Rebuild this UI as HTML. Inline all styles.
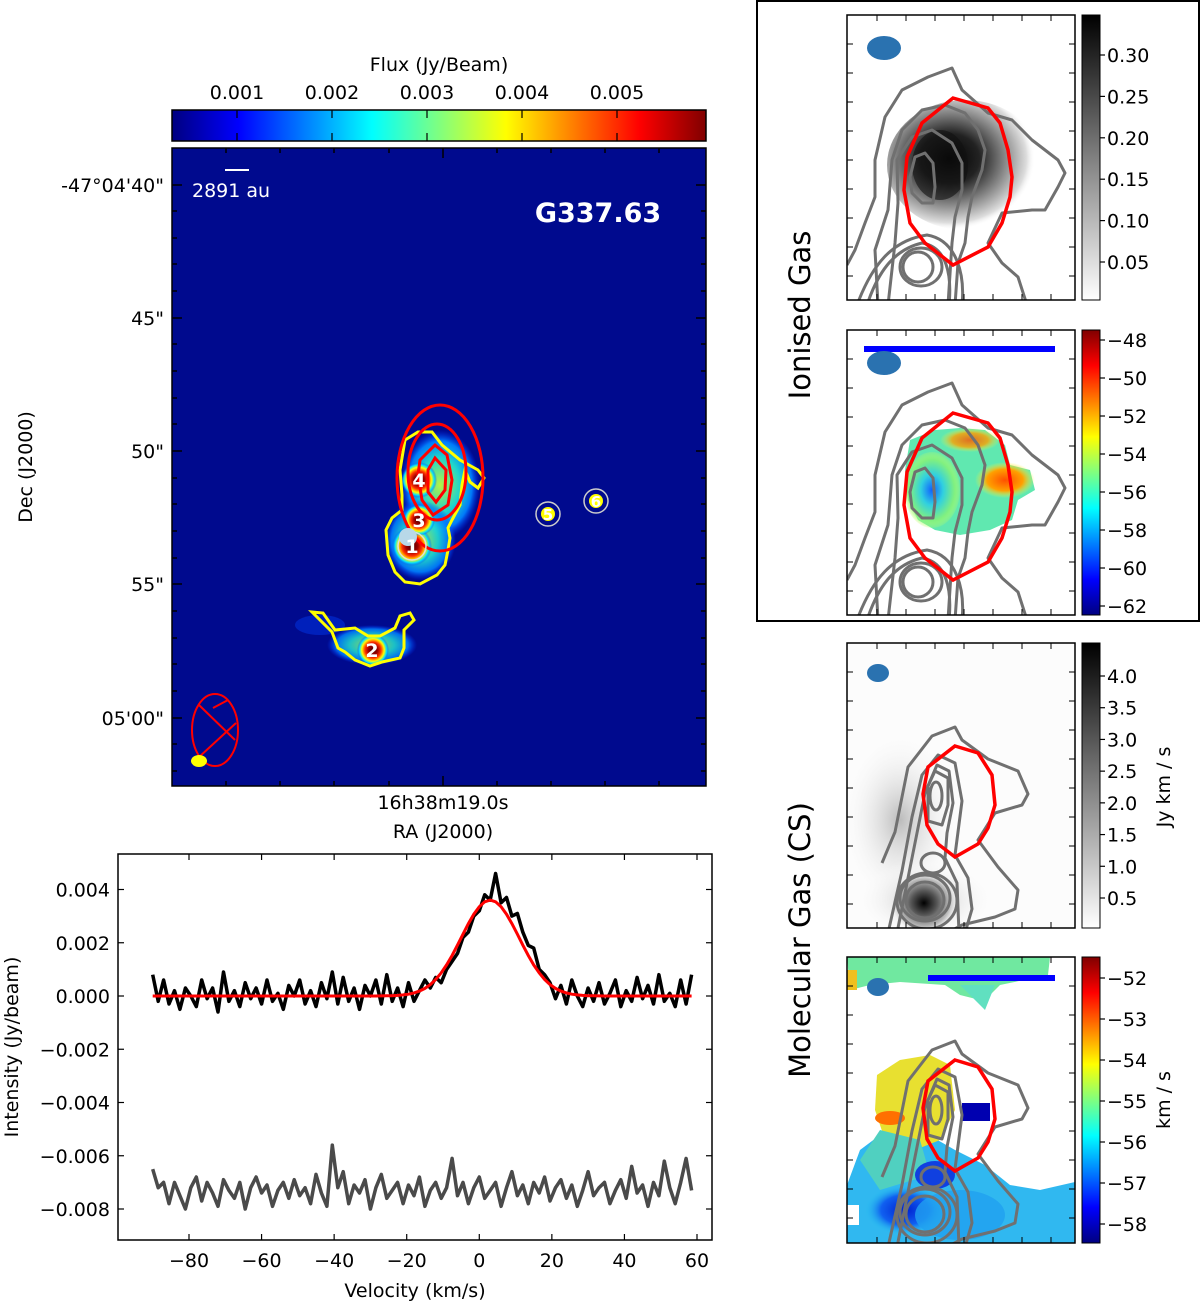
<!DOCTYPE html>
<html><head><meta charset="utf-8"><style>
body{margin:0;background:#fff;}
svg{display:block;font-family:"DejaVu Sans","Liberation Sans",sans-serif;}
</style></head><body>
<svg id="fig" width="1200" height="1301" viewBox="0 0 1200 1301" xmlns="http://www.w3.org/2000/svg">
<defs>
<linearGradient id="jet" x1="0" x2="1" y1="0" y2="0">
<stop offset="0" stop-color="#000080"/><stop offset="0.125" stop-color="#0000ff"/><stop offset="0.375" stop-color="#00ffff"/><stop offset="0.625" stop-color="#ffff00"/><stop offset="0.875" stop-color="#ff0000"/><stop offset="1" stop-color="#800000"/>
</linearGradient>
<linearGradient id="jetv" x1="0" x2="0" y1="1" y2="0">
<stop offset="0" stop-color="#000080"/><stop offset="0.125" stop-color="#0000ff"/><stop offset="0.375" stop-color="#00ffff"/><stop offset="0.625" stop-color="#ffff00"/><stop offset="0.875" stop-color="#ff0000"/><stop offset="1" stop-color="#800000"/>
</linearGradient>
<linearGradient id="grayv" x1="0" x2="0" y1="1" y2="0">
<stop offset="0" stop-color="#ffffff"/><stop offset="1" stop-color="#000000"/>
</linearGradient>
<radialGradient id="hot" cx="0.5" cy="0.5" r="0.5">
<stop offset="0" stop-color="#400000"/><stop offset="0.3" stop-color="#a00000"/><stop offset="0.5" stop-color="#ff3000"/><stop offset="0.7" stop-color="#ffff00"/><stop offset="0.85" stop-color="#00e0ff"/><stop offset="1" stop-color="#0030ff" stop-opacity="0"/>
</radialGradient>
<radialGradient id="warm" cx="0.5" cy="0.5" r="0.5">
<stop offset="0" stop-color="#c0ff40"/><stop offset="0.5" stop-color="#20e0d0"/><stop offset="0.8" stop-color="#0080ff"/><stop offset="1" stop-color="#0030ff" stop-opacity="0"/>
</radialGradient>
<radialGradient id="gblob" cx="0.4" cy="0.45" r="0.55">
<stop offset="0" stop-color="#000"/><stop offset="0.35" stop-color="#222"/><stop offset="0.65" stop-color="#888"/><stop offset="0.9" stop-color="#ddd"/><stop offset="1" stop-color="#fff" stop-opacity="0"/>
</radialGradient>
<radialGradient id="gspot" cx="0.5" cy="0.5" r="0.5">
<stop offset="0" stop-color="#000"/><stop offset="0.4" stop-color="#555"/><stop offset="0.8" stop-color="#bbb"/><stop offset="1" stop-color="#ddd" stop-opacity="0"/>
</radialGradient>
<radialGradient id="haze" cx="0.5" cy="0.5" r="0.5">
<stop offset="0" stop-color="#bbb"/><stop offset="1" stop-color="#fff" stop-opacity="0"/>
</radialGradient>
<radialGradient id="cyanb" cx="0.5" cy="0.5" r="0.5">
<stop offset="0" stop-color="#1060ff"/><stop offset="0.4" stop-color="#30d0e0"/><stop offset="0.8" stop-color="#80f080"/><stop offset="1" stop-color="#c0ff60" stop-opacity="0.2"/>
</radialGradient>
<radialGradient id="orng" cx="0.5" cy="0.5" r="0.5">
<stop offset="0" stop-color="#ff5000"/><stop offset="0.6" stop-color="#ffa000"/><stop offset="1" stop-color="#ffff40" stop-opacity="0"/>
</radialGradient>
<radialGradient id="blueb" cx="0.5" cy="0.5" r="0.5">
<stop offset="0" stop-color="#0020d0"/><stop offset="0.6" stop-color="#1060f0"/><stop offset="1" stop-color="#20c0f0" stop-opacity="0"/>
</radialGradient>
<clipPath id="cmap"><rect x="172" y="148" width="534" height="638"/></clipPath>
<clipPath id="cp1"><rect x="847" y="15" width="228" height="285"/></clipPath>
<clipPath id="cp2"><rect x="847" y="330" width="228" height="285"/></clipPath>
<clipPath id="cp3"><rect x="847" y="643" width="228" height="285"/></clipPath>
<clipPath id="cp4"><rect x="847" y="957" width="228" height="286"/></clipPath>
<clipPath id="cspec"><rect x="118" y="854" width="594" height="386"/></clipPath>
<g id="contA" fill="none" stroke="#707070" stroke-width="3" stroke-linejoin="round">
<path d="M0,250 L8,235 L18,208 L28,182 L28,145 L38,102 L55,75 L81,62 L105,53 L115,75 L141,98 L165,105 L185,125 L211,145 L218,158 L211,172 L198,195 L185,195 L155,198 L141,228 L155,248 L171,262 L180,290"/>
<path d="M31,290 L28,235 L41,195 L45,145 L55,115 L75,95 L98,90 L118,98 L131,115 L138,135 L135,155 L125,182 L121,202 L118,228 L111,248 L108,290"/>
<path d="M41,290 L48,228 L51,188 L50,145 L65,122 L85,115 L105,128 L115,148 L115,175 L108,202 L105,228 L101,290"/>
<path d="M63,162 L68,142 L78,138 L86,148 L88,172 L86,188 L75,188 L65,178 Z"/>
<ellipse cx="71" cy="252" rx="15" ry="15"/>
<ellipse cx="74" cy="252" rx="21" ry="19"/>
<path d="M20,290 C30,260 45,235 75,228 C100,232 105,260 102,290"/>
<path d="M10,290 C25,250 45,225 80,220 C110,225 118,260 115,290"/>
</g>
<g id="contB" fill="none" stroke="#707070" stroke-width="3" stroke-linejoin="round">
<path d="M35,220 L48,189 L61,124 L85,93 L108,84 L115,97 L141,116 L171,128 L181,151 L175,162 L148,170 L131,197 L151,224 L171,247 L168,266 L148,274 L115,282 L100,290"/>
<path d="M41,290 L55,228 L65,174 L75,132 L91,112 L108,120 L115,158 L111,189 L108,212 L121,235 L125,266 L118,290"/>
<path d="M50,290 L60,240 L70,190 L78,150 L90,122 L102,128 L106,160 L100,190 L98,215 L110,240 L112,290"/>
<path d="M81,143 L88,128 L101,135 L101,162 L95,182 L81,178 Z"/>
<ellipse cx="89" cy="153" rx="6" ry="14"/>
<ellipse cx="86" cy="220" rx="12" ry="10"/>
<ellipse cx="78" cy="255" rx="25" ry="23"/>
<ellipse cx="78" cy="257" rx="19" ry="18"/>
<ellipse cx="80" cy="258" rx="30" ry="28"/>
</g>
</defs>

<!-- ========== MAIN MAP ========== -->
<text x="439" y="71" font-size="19" text-anchor="middle">Flux (Jy/Beam)</text>
<rect x="172" y="110" width="534" height="31" fill="url(#jet)" stroke="#000" stroke-width="1.5"/>
<g id="cbTicks" font-size="19" text-anchor="middle"></g>

<g clip-path="url(#cmap)">
<rect x="172" y="148" width="534" height="638" fill="#000a8e"/>
<ellipse cx="440" cy="485" rx="40" ry="55" fill="url(#warm)" opacity="0.95"/>
<ellipse cx="420" cy="540" rx="36" ry="40" fill="url(#warm)" opacity="0.9"/>
<ellipse cx="372" cy="645" rx="45" ry="20" fill="url(#warm)" opacity="0.85"/>
<ellipse cx="320" cy="625" rx="25" ry="10" fill="#0040ff" opacity="0.4"/>
<circle cx="412" cy="546" r="20" fill="url(#hot)"/>
<circle cx="419" cy="520" r="16" fill="url(#hot)"/>
<circle cx="419" cy="480" r="18" fill="url(#hot)"/>
<circle cx="373" cy="650" r="16" fill="url(#hot)"/>
<circle cx="548" cy="514" r="7" fill="#ffff00"/>
<circle cx="596" cy="501" r="7" fill="#ffff00"/>
<path d="M405,440 L418,432 L432,432 L442,445 L460,460 L478,470 L484,478 L478,488 L470,482 L465,470 L462,485 L460,505 L452,520 L448,528 L450,538 L448,550 L445,565 L437,575 L420,584 L405,582 L395,572 L388,555 L386,530 L392,518 L402,510 L402,495 L400,470 Z" fill="none" stroke="#ffff00" stroke-width="3"/>
<path d="M312,612 L323,613 L335,630 L355,628 L368,636 L380,636 L395,628 L400,616 L410,613 L414,620 L404,630 L404,648 L400,658 L382,662 L370,666 L355,660 L345,652 L338,648 L332,632 Z" fill="none" stroke="#ffff00" stroke-width="3"/>
<ellipse cx="440" cy="478" rx="43" ry="73" fill="none" stroke="#ff0000" stroke-width="3"/>
<ellipse cx="437" cy="472" rx="29" ry="48" fill="none" stroke="#ff0000" stroke-width="3"/>
<path d="M420,460 L435,445 L447,455 L452,480 L448,505 L433,515 L422,500 L418,475 Z" fill="none" stroke="#ff0000" stroke-width="3"/>
<path d="M435,458 L446,470 L445,490 L436,502 L428,492 L428,470 Z" fill="none" stroke="#ff0000" stroke-width="3"/>
<circle cx="412" cy="546" r="14" fill="none" stroke="#ddd" stroke-width="1.5"/>
<circle cx="408" cy="537" r="9" fill="#b8d8e8"/>
<circle cx="548" cy="514" r="12" fill="none" stroke="#ccc" stroke-width="1.5"/>
<circle cx="596" cy="501" r="12" fill="none" stroke="#ccc" stroke-width="1.5"/>
<g font-size="19" font-weight="bold" fill="#fff" text-anchor="middle">
<text x="412" y="553">1</text>
<text x="372" y="657">2</text>
<text x="419" y="527">3</text>
<text x="419" y="487">4</text>
<text x="548" y="520" font-size="15">5</text>
<text x="596" y="507" font-size="15">6</text>
</g>
<rect x="225" y="169" width="24" height="2" fill="#fff"/>
<text x="192" y="197" font-size="19" fill="#fff">2891 au</text>
<text x="598" y="222" font-size="27" font-weight="bold" fill="#fff" text-anchor="middle">G337.63</text>
<ellipse cx="215" cy="730" rx="23" ry="36" fill="none" stroke="#ff0000" stroke-width="2"/>
<path d="M199,705 L235,740 M213,708 L228,700 M198,758 L236,723" stroke="#ff0000" stroke-width="2"/>
<ellipse cx="199" cy="761" rx="8" ry="6" fill="#ffff00"/>
</g>
<rect x="172" y="148" width="534" height="638" fill="none" stroke="#000" stroke-width="1.5"/>
<g id="mapTicks" stroke="#000" stroke-width="1.5"></g>
<g font-size="19" text-anchor="end">
<text x="164" y="192">-47°04'40"</text>
<text x="164" y="325">45"</text>
<text x="164" y="458">50"</text>
<text x="164" y="591">55"</text>
<text x="164" y="725">05'00"</text>
</g>
<text x="443" y="809" font-size="19" text-anchor="middle">16h38m19.0s</text>
<text x="443" y="838" font-size="19" text-anchor="middle">RA (J2000)</text>
<text transform="translate(32,467) rotate(-90)" font-size="19" text-anchor="middle">Dec (J2000)</text>

<!-- ========== SPECTRUM ========== -->
<g id="spec"></g>

<!-- ========== RIGHT PANELS ========== -->
<rect x="757" y="1" width="442" height="620" fill="none" stroke="#000" stroke-width="2"/>
<text transform="translate(810,315) rotate(-90)" font-size="29" text-anchor="middle">Ionised Gas</text>
<text transform="translate(810,940) rotate(-90)" font-size="29" text-anchor="middle">Molecular Gas (CS)</text>

<!-- panel 1 -->
<g clip-path="url(#cp1)">
<rect x="847" y="15" width="228" height="285" fill="#fff"/>
<ellipse cx="965" cy="165" rx="78" ry="65" fill="url(#gblob)"/>
<ellipse cx="940" cy="165" rx="28" ry="35" fill="#111" opacity="0.6"/>
<use href="#contA" x="847" y="15"/>
<path d="M953,98 L988,108 L1000,123 L1008,150 L1012,177 L1010,197 L1002,223 L988,247 L953,265 L925,243 L910,223 L904,190 L907,157 L922,123 Z" fill="none" stroke="#ff0000" stroke-width="3.5"/>
<ellipse cx="884" cy="48" rx="17" ry="12" fill="#2a72b0"/>
</g>
<rect x="847" y="15" width="228" height="285" fill="none" stroke="#000" stroke-width="1.5"/>
<rect x="1082" y="15" width="18" height="285" fill="url(#grayv)" stroke="#000" stroke-width="1"/>
<g id="cb1"></g>

<!-- panel 2 -->
<g clip-path="url(#cp2)">
<rect x="847" y="330" width="228" height="285" fill="#fff"/>
<path d="M910,440 L935,430 L960,428 L985,430 L1005,445 L1010,465 L1030,470 L1035,490 L1018,500 L1012,520 L990,530 L960,535 L935,530 L918,520 L908,500 L905,470 Z" fill="#60e8b0"/>
<ellipse cx="932" cy="490" rx="28" ry="38" fill="url(#cyanb)"/>
<ellipse cx="1005" cy="480" rx="30" ry="18" fill="url(#orng)"/>
<ellipse cx="970" cy="440" rx="30" ry="12" fill="url(#orng)" opacity="0.8"/>
<use href="#contA" x="847" y="330"/>
<path d="M953,413 L988,423 L1000,438 L1008,465 L1012,492 L1010,512 L1002,538 L988,562 L953,580 L925,558 L910,538 L904,505 L907,472 L922,438 Z" fill="none" stroke="#ff0000" stroke-width="3.5"/>
<rect x="864" y="346" width="191" height="6" fill="#0000ff"/>
<ellipse cx="884" cy="363" rx="17" ry="12" fill="#2a72b0"/>
</g>
<rect x="847" y="330" width="228" height="285" fill="none" stroke="#000" stroke-width="1.5"/>
<rect x="1082" y="330" width="18" height="285" fill="url(#jetv)" stroke="#000" stroke-width="1"/>
<g id="cb2"></g>

<!-- panel 3 -->
<g clip-path="url(#cp3)">
<rect x="847" y="643" width="228" height="285" fill="#fcfcfc"/>
<ellipse cx="900" cy="820" rx="60" ry="90" fill="url(#haze)"/>
<ellipse cx="925" cy="900" rx="70" ry="40" fill="url(#haze)"/>
<ellipse cx="924" cy="903" rx="32" ry="30" fill="url(#gspot)"/>
<use href="#contB" x="847" y="643"/>
<path d="M955,746 L978,753 L992,775 L995,805 L988,828 L978,844 L955,857 L938,844 L927,825 L923,794 L928,767 Z" fill="none" stroke="#ff0000" stroke-width="3.5"/>
<ellipse cx="878" cy="673" rx="11" ry="9" fill="#2a72b0"/>
</g>
<rect x="847" y="643" width="228" height="285" fill="none" stroke="#000" stroke-width="1.5"/>
<rect x="1082" y="643" width="18" height="285" fill="url(#grayv)" stroke="#000" stroke-width="1"/>
<g id="cb3"></g>
<text transform="translate(1170,787) rotate(-90)" font-size="19" text-anchor="middle">Jy km / s</text>

<!-- panel 4 -->
<g clip-path="url(#cp4)">
<rect x="847" y="957" width="228" height="286" fill="#fff"/>
<path d="M847,957 L1050,957 L1048,975 L1000,985 L990,995 L980,1000 L960,995 L945,985 L900,982 L870,985 L850,990 Z" fill="#70e8a0"/>
<path d="M960,985 L995,985 L985,1010 L975,1000 Z" fill="#60e0c0"/>
<rect x="847" y="970" width="10" height="20" fill="#f0c020"/>
<path d="M847,1185 L860,1150 L880,1135 L920,1130 L955,1150 L985,1165 L1010,1185 L1040,1190 L1075,1182 L1075,1243 L847,1243 Z" fill="#30b8f0"/>
<path d="M877,1075 L900,1060 L930,1055 L950,1065 L955,1110 L940,1140 L915,1150 L885,1140 L875,1110 Z" fill="#e8e030"/>
<path d="M860,1160 L880,1130 L920,1140 L930,1175 L880,1190 Z" fill="#50d0c0"/>
<ellipse cx="890" cy="1118" rx="15" ry="7" fill="#ff7000"/>
<ellipse cx="905" cy="1210" rx="40" ry="25" fill="url(#blueb)"/>
<ellipse cx="935" cy="1175" rx="20" ry="14" fill="#1040e0"/>
<ellipse cx="960" cy="1215" rx="45" ry="25" fill="#20a0f0" opacity="0.8"/>
<rect x="847" y="1205" width="12" height="20" fill="#fff"/>
<rect x="962" y="1103" width="28" height="18" fill="#0000b0"/>
<use href="#contB" x="847" y="957"/>
<path d="M955,1060 L978,1067 L992,1089 L995,1119 L988,1142 L978,1158 L955,1171 L938,1158 L927,1139 L923,1108 L928,1081 Z" fill="none" stroke="#ff0000" stroke-width="3.5"/>
<rect x="928" y="975" width="127" height="6" fill="#0000ff"/>
<ellipse cx="878" cy="987" rx="11" ry="9" fill="#2a72b0"/>
</g>
<rect x="847" y="957" width="228" height="286" fill="none" stroke="#000" stroke-width="1.5"/>
<rect x="1082" y="957" width="18" height="286" fill="url(#jetv)" stroke="#000" stroke-width="1"/>
<g id="cb4"></g>
<text transform="translate(1170,1100) rotate(-90)" font-size="19" text-anchor="middle">km / s</text>
</svg>

<script>
// ---------- Spectrum data ----------
const specVelStart = -90;
const specVelStep = 1.5;
// observed spectrum (units of 1e-4 Jy/beam)
const specObserved = [8,-2,6,-3,2,-5,3,0,-4,6,-1,3,-6,9,-2,2,-4,5,-1,3,-3,6,-2,1,-5,4,0,6,-3,2,-4,5,-1,9,-3,7,-2,3,-5,4,0,6,-3,8,-2,3,-4,5,-2,2,6,3,7,5,10,13,16,22,24,30,32,38,36,46,35,37,30,31,24,19,18,10,8,5,-1,4,-3,6,0,-4,3,-2,5,-3,1,6,-4,2,-2,7,-1,4,-3,8,-2,1,-4,6,-3,8];
// residual spectrum (units of 1e-4, offset)
const specResidual = [-65,-72,-70,-78,-70,-75,-80,-72,-68,-77,-70,-74,-79,-69,-73,-76,-70,-80,-72,-68,-74,-71,-79,-73,-70,-76,-69,-75,-72,-78,-67,-74,-79,-56,-72,-66,-78,-71,-74,-69,-80,-72,-67,-76,-73,-70,-78,-71,-75,-68,-79,-73,-70,-76,-72,-61,-75,-70,-78,-72,-68,-76,-73,-70,-79,-72,-66,-75,-71,-78,-70,-74,-68,-77,-72,-69,-76,-71,-79,-73,-66,-75,-72,-70,-78,-73,-69,-76,-64,-74,-71,-79,-70,-75,-62,-72,-78,-70,-61,-73];
const fitAmp = [0.0036];
const fitCenter = [3];
const fitSigma = [8];
const xTicks = [-80,-60,-40,-20,0,20,40,60];
const yTicks = [0.004,0.002,0.000,-0.002,-0.004,-0.006,-0.008];
// colorbar ticks
const cbMainTicks = [0.001,0.002,0.003,0.004,0.005];
const cb1Ticks = [0.30,0.25,0.20,0.15,0.10,0.05];
const cb2Ticks = [-48,-50,-52,-54,-56,-58,-60,-62];
const cb3Ticks = [4.0,3.5,3.0,2.5,2.0,1.5,1.0,0.5];
const cb4Ticks = [-52,-53,-54,-55,-56,-57,-58];

const NS = "http://www.w3.org/2000/svg";
function mk(tag, attrs, parent){const e=document.createElementNS(NS,tag);for(const k in attrs)e.setAttribute(k,attrs[k]);parent.appendChild(e);return e;}

const PX0=118,PX1=712,PY0=854,PY1=1240;
const xs = v => 189 + (v + 80) * (697 - 189) / 140;
const ys = f => 996 - f * (1209 - 996) / 0.008;
const spec = document.getElementById('spec');
const g = mk('g',{'clip-path':'url(#cspec)'},spec);
let d='';
specObserved.forEach((v,i)=>{const vel=specVelStart+i*specVelStep;d+=(i?'L':'M')+xs(vel).toFixed(1)+','+ys(v*1e-4).toFixed(1);});
const obs = mk('path',{d:d,fill:'none',stroke:'#000','stroke-width':3.5,'stroke-linejoin':'round'},g);


d='';
specResidual.forEach((v,i)=>{const vel=specVelStart+i*specVelStep;d+=(i?'L':'M')+xs(vel).toFixed(1)+','+ys(v*1e-4).toFixed(1);});
const res = mk('path',{d:d,fill:'none',stroke:'#4a4a4a','stroke-width':3.5,'stroke-linejoin':'round'},g);


d='';
for(let i=0;i<specObserved.length;i++){const vel=specVelStart+i*specVelStep;const f=fitAmp[0]*Math.exp(-Math.pow(vel-fitCenter[0],2)/(2*fitSigma[0]*fitSigma[0]));d+=(i?'L':'M')+xs(vel).toFixed(1)+','+ys(f).toFixed(1);}
const fit = mk('path',{d:d,fill:'none',stroke:'#ff0000','stroke-width':3},g);


mk('rect',{x:PX0,y:PY0,width:PX1-PX0,height:PY1-PY0,fill:'none',stroke:'#000','stroke-width':1.5},spec);
xTicks.forEach(t=>{const x=xs(t);mk('line',{x1:x,x2:x,y1:PY1,y2:PY1-6,stroke:'#000','stroke-width':1.2},spec);mk('line',{x1:x,x2:x,y1:PY0,y2:PY0+6,stroke:'#000','stroke-width':1.2},spec);
const tx=mk('text',{x:x,y:1267,'font-size':19,'text-anchor':'middle'},spec);tx.textContent=(t<0?'\u2212'+(-t):t);

});
yTicks.forEach(t=>{const y=ys(t);mk('line',{x1:PX0,x2:PX0+6,y1:y,y2:y,stroke:'#000','stroke-width':1.2},spec);mk('line',{x1:PX1,x2:PX1-6,y1:y,y2:y,stroke:'#000','stroke-width':1.2},spec);
const tx=mk('text',{x:110,y:y+7,'font-size':19,'text-anchor':'end'},spec);tx.textContent=(t<0?'\u2212':'')+Math.abs(t).toFixed(3);

});
const xt=mk('text',{x:415,y:1297,'font-size':19,'text-anchor':'middle'},spec);xt.textContent='Velocity (km/s)';


const yt=mk('text',{transform:'translate(18,1047) rotate(-90)','font-size':19,'text-anchor':'middle'},spec);yt.textContent='Intensity (Jy/beam)';



const cbm=document.getElementById('cbTicks');
const cbx = f => 237 + (f-0.001)*(617-237)/0.004;
cbMainTicks.forEach(t=>{const x=cbx(t);mk('line',{x1:x,x2:x,y1:141,y2:133,stroke:'#000','stroke-width':1.2},cbm);mk('line',{x1:x,x2:x,y1:110,y2:118,stroke:'#000','stroke-width':1.2},cbm);
const tx=mk('text',{x:x,y:99},cbm);tx.textContent=t.toFixed(3);

});

const mt=document.getElementById('mapTicks');
[185,318,451,584,718].forEach(y=>{mk('line',{x1:172,x2:182,y1:y,y2:y},mt);mk('line',{x1:706,x2:696,y1:y,y2:y},mt);});
[211,238,264,291,344,371,398,424,478,504,531,558,611,638,664,691,744,771].forEach(y=>{mk('line',{x1:172,x2:177,y1:y,y2:y},mt);mk('line',{x1:706,x2:701,y1:y,y2:y},mt);});
[226,280,334,389,497,551,605,659].forEach(x=>{mk('line',{x1:x,x2:x,y1:148,y2:153},mt);mk('line',{x1:x,x2:x,y1:786,y2:781},mt);});
mk('line',{x1:443,x2:443,y1:786,y2:776},mt);
mk('line',{x1:443,x2:443,y1:148,y2:158},mt);

function sideCb(id, ticks, v0, y0, v1, y1, dec){
 const gg=document.getElementById(id);
 ticks.forEach(t=>{const y=y0+(t-v0)*(y1-y0)/(v1-v0);mk('line',{x1:1100,x2:1105,y1:y,y2:y,stroke:'#000','stroke-width':1.2},gg);
 const tx=mk('text',{x:1107,y:y+7,'font-size':19},gg);tx.textContent=(t<0?'\u2212'+Math.abs(t).toFixed(dec):t.toFixed(dec));
 
 });
}
sideCb('cb1',cb1Ticks,0.30,55,0.05,262,2);
sideCb('cb2',cb2Ticks,-48,340,-62,606,0);
sideCb('cb3',cb3Ticks,4.0,676,0.5,898,1);
sideCb('cb4',cb4Ticks,-52,978,-58,1224,0);

[[15,300],[330,615],[643,928],[957,1243]].forEach(([a,b])=>{
 const gg=document.getElementById('fig');
 for(let x=877;x<1075;x+=29){mk('line',{x1:x,x2:x,y1:a,y2:a+6,stroke:'#000'},gg);mk('line',{x1:x,x2:x,y1:b,y2:b-6,stroke:'#000'},gg);}
 for(let y=a+29;y<b;y+=29){mk('line',{x1:847,x2:853,y1:y,y2:y,stroke:'#000'},gg);mk('line',{x1:1075,x2:1069,y1:y,y2:y,stroke:'#000'},gg);}
});
</script>
</body></html>
